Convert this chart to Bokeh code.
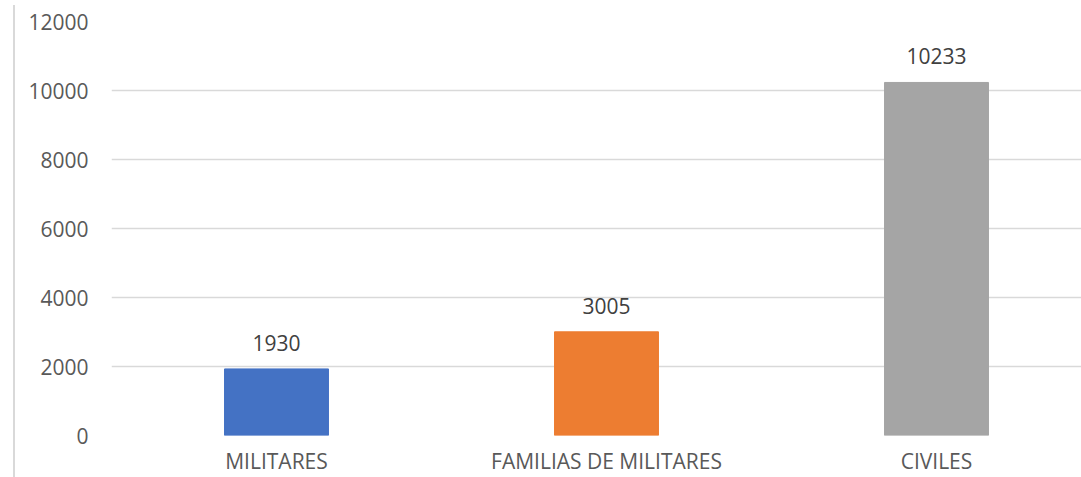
from bokeh.plotting import figure
from bokeh.layouts import row
from bokeh.models import Range1d, FixedTicker, ColumnDataSource, Div
from bokeh.core.properties import value
from bokeh.embed import file_html
from bokeh.resources import INLINE

categories = ["MILITARES", "FAMILIAS DE MILITARES", "CIVILES"]
counts = [1930, 3005, 10233]
colors = ["#4472C4", "#ED7D31", "#A5A5A5"]
y_ticks = [0, 2000, 4000, 6000, 8000, 10000, 12000]

FONT = "Open Sans"
positions = [i + 0.5 for i in range(len(categories))]

source = ColumnDataSource(dict(
    x=positions,
    top=counts,
    color=colors,
    label=[str(c) for c in counts],
))

p = figure(
    width=1061, height=477,
    x_range=Range1d(0, 2.9394), y_range=Range1d(0, 12000),
    output_backend="svg", toolbar_location=None,
    min_border_left=91, min_border_right=0,
    min_border_top=21, min_border_bottom=41,
)
p.outline_line_color = None
p.background_fill_color = "white"
p.border_fill_color = "white"

p.vbar(x="x", top="top", width=0.315, color="color", source=source)
p.text(x="x", y="top", text="label", source=source,
       text_font=value(FONT), text_font_size="21px", text_color="#404040",
       text_align="center", text_baseline="alphabetic", y_offset=-26)

# axes
p.yaxis.ticker = FixedTicker(ticks=y_ticks)
p.yaxis.axis_line_color = None
p.yaxis.major_tick_line_color = None
p.yaxis.minor_tick_line_color = None
p.yaxis.major_tick_out = 0
p.yaxis.major_label_standoff = 23
p.yaxis.major_label_text_font = FONT
p.yaxis.major_label_text_font_size = "21px"
p.yaxis.major_label_text_color = "#595959"

p.xaxis.ticker = FixedTicker(ticks=positions)
p.xaxis.major_label_overrides = {pos: name for pos, name in zip(positions, categories)}
p.xaxis.axis_line_color = None
p.xaxis.major_tick_line_color = None
p.xaxis.minor_tick_line_color = None
p.xaxis.major_tick_out = 0
p.xaxis.major_tick_in = 0
p.xaxis.major_label_standoff = 11
p.xaxis.major_label_text_font = FONT
p.xaxis.major_label_text_font_size = "21px"
p.xaxis.major_label_text_color = "#595959"

p.xgrid.grid_line_color = None
p.ygrid.grid_line_color = "#d9d9d9"
p.ygrid.grid_line_width = 1.4
p.ygrid.ticker = FixedTicker(ticks=y_ticks)

# thin rule along the left edge of the chart
edge = Div(text="", width=10, height=477,
           styles={"border-right": "2px solid #d9d9d9", "background": "white"})

layout = row(edge, p, spacing=0)

open("out.html", "w").write(file_html(layout, INLINE))
